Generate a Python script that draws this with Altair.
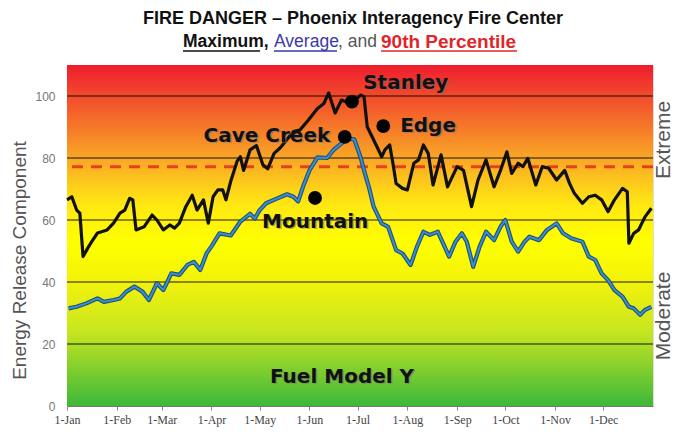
import altair as alt
import pandas as pd

# ---- data ----
max_days = [0,3,6,8,10,13,16,19,25,29,33,36,39,41,43,48,53,56,60,64,67,70,74,78,81,85,88,91,94,97,
            99,102,106,108,110,114,118,122,125,129,133,137,141,145,150,156,160,163,167,171,176,179,183,185,187,
            193,196,198,201,203,205,209,212,216,219,222,225,228,233,237,243,247,252,256,261,266,270,274,277,281,
            284,287,292,296,300,305,310,313,316,321,325,329,333,337,341,346,349,350,353,356,360,364]
max_vals = [66.5,67.5,63.2,62.2,48.2,51,53.5,55.8,56.8,59,62.2,63.2,67,66.5,56.8,57.8,61.6,60,56.8,58.4,
            57.4,59,64.3,68,63.2,66.5,59,67.5,69.7,69.7,66.5,72.5,79,80.4,76,82.6,84,77.8,76.5,81.5,
            83.4,86,88.5,89,92,96,97.6,101,94.5,98.7,97.6,98.5,100.3,99.8,90.1,83.7,80.4,82.6,84.2,78.3,
            71.8,70.2,69.7,78.3,79.4,84.2,81.5,71.3,81,70.7,77.2,76,64.3,72.9,79.4,70.7,76,82,75,78.3,
            77.2,79.9,71.3,77.2,76.7,72.9,76,71.8,68.6,65.4,67.5,68,66.5,62.7,66.5,70.2,69.1,52.5,55.7,56.8,
            61,63.8]

avg_days = [1,6,12,19,23,29,33,37,42,47,51,56,60,65,70,75,79,83,87,90,95,102,108,114,117,120,124,131,137,141,
            144,147,151,156,162,166,171,174,179,183,185,188,191,196,200,205,209,214,218,222,226,231,238,242,246,
            249,253,257,261,266,270,273,277,281,285,288,294,299,305,309,314,321,325,329,333,337,341,346,350,353,
            357,360,364]
avg_vals = [31.5,32,33.1,34.7,33.6,34.2,34.7,36.9,38.5,36.9,34.2,39.6,37.4,42.8,42.3,45.5,46.5,43.9,49.3,51.5,
            55.7,55,59.5,62,60.5,63.2,65.4,67,68.3,67.5,66,70.7,76,80.2,80,82.6,84.7,86.3,86,80,
            76,70.7,64.3,58.9,57.8,50.3,49.2,45.5,51.4,56.2,55.2,56.2,48.2,53,55.7,53,44.9,51.4,56.2,53.5,
            57.8,60,53,49.8,53,54.6,53.5,56.8,58.9,55.7,54.1,53,48.2,47.1,42.8,40.6,37.4,35.3,32,31.5,
            29.4,31,32]

percentile_90 = 77.2
grid_values = [20, 40, 60, 80, 100]
y_ticks = [0, 20, 40, 60, 80, 100]

fire_names = ["Stanley", "Cave Creek", "Edge", "Mountain"]
fire_days = [177.5, 173, 197, 154.5]
fire_vals = [98.2, 86.8, 90.3, 67.1]

label_texts = ["Stanley", "Cave Creek", "Edge", "Mountain", "Fuel Model Y"]
label_days = [184.5, 164, 207.5, 121.5, 171.3]
label_vals = [104.3, 87.1, 90.4, 59.5, 9.5]
label_aligns = ["left", "right", "left", "left", "center"]

month_ticks = [f"2001-{m:02d}-01T00:00:00" for m in range(1, 13)]

# ---- tables ----
base = pd.Timestamp("2001-01-01")
def to_dates(days):
    return [base + pd.Timedelta(days=d) for d in days]

df_max = pd.DataFrame({"date": to_dates(max_days), "val": max_vals})
df_avg = pd.DataFrame({"date": to_dates(avg_days), "val": avg_vals})
df_fire = pd.DataFrame({"date": to_dates(fire_days), "val": fire_vals, "name": fire_names})
df_lab = pd.DataFrame({"date": to_dates(label_days), "val": label_vals, "text": label_texts, "align": label_aligns})
df_bg = pd.DataFrame({"date": [pd.Timestamp("2001-01-01")], "end": [pd.Timestamp("2002-01-01")],
                      "val": [0], "hi": [110]})
df_grid = pd.DataFrame({"val": grid_values})
df_p90 = pd.DataFrame({"val": [percentile_90]})
one = pd.DataFrame({"k": [0]})

xscale = alt.Scale(domain=["2001-01-01T00:00:00", "2002-01-01T00:00:00"], nice=False)
yscale = alt.Scale(domain=[0, 110], nice=False, zero=True)

xaxis = alt.Axis(values=month_ticks, format="%-d-%b", labelAngle=0, grid=False,
                 labelAlign="center", labelFlush=False, labelOverlap=False,
                 labelFont="Liberation Serif", labelFontSize=12, labelColor="#444",
                 tickColor="#888", tickSize=4, labelPadding=4, domainColor="#777", title=None)
yaxis = alt.Axis(values=y_ticks, grid=False, ticks=False, domain=False,
                 labelFont="Liberation Sans", labelFontSize=12, labelColor="#777", labelPadding=12,
                 title="Energy Release Component", titleFont="Liberation Sans", titleFontSize=19,
                 titleFontWeight="normal", titleColor="#555", titleAngle=270,
                 titleAlign="center", titleBaseline="middle", titleX=-48, titleY=195)

X = alt.X("date:T", scale=xscale, axis=xaxis)
Y = alt.Y("val:Q", scale=yscale, axis=yaxis)

gradient = alt.Gradient(
    gradient="linear", x1=0, y1=0, x2=0, y2=1,
    stops=[
        alt.GradientStop(color="#ee1c2e", offset=0.0),
        alt.GradientStop(color="#f24a2c", offset=0.09),
        alt.GradientStop(color="#f9a526", offset=0.27),
        alt.GradientStop(color="#ffe812", offset=0.41),
        alt.GradientStop(color="#ffff00", offset=0.52),
        alt.GradientStop(color="#f2f20a", offset=0.64),
        alt.GradientStop(color="#c8e620", offset=0.78),
        alt.GradientStop(color="#3cb83a", offset=1.0),
    ],
)

bg = alt.Chart(df_bg).mark_rect(color=gradient).encode(x=X, x2="end:T", y=Y, y2="hi:Q")

grid = alt.Chart(df_grid).mark_rule(color="#000", opacity=0.6, strokeWidth=1.3).encode(y=Y)

p90 = alt.Chart(df_p90).mark_rule(color="#e8401c", strokeWidth=3, strokeDash=[11, 8]).encode(y=Y)

avg_under = alt.Chart(df_avg).mark_line(color="#1f4f78", strokeWidth=4.2, strokeJoin="round").encode(x=X, y=Y)
avg_line = alt.Chart(df_avg).mark_line(color="#3a8fcc", strokeWidth=2, strokeJoin="round").encode(x=X, y=Y)
max_line = alt.Chart(df_max).mark_line(color="#111111", strokeWidth=3.2, strokeJoin="round").encode(x=X, y=Y)

dots = alt.Chart(df_fire).mark_circle(color="#000", opacity=1, size=190).encode(x=X, y=Y)

def labels(align):
    d = df_lab[df_lab["align"] == align]
    shadow = alt.Chart(d).mark_text(font="DejaVu Sans", fontWeight="bold", fontSize=20, align=align,
                                    baseline="middle", color="#777", opacity=0.55, dx=1.5, dy=1.5).encode(
        x=X, y=Y, text="text:N")
    txt = alt.Chart(d).mark_text(font="DejaVu Sans", fontWeight="bold", fontSize=20, align=align,
                                 baseline="middle", color="#111").encode(x=X, y=Y, text="text:N")
    return [shadow, txt]

def ptext(s, x, y, size, color, weight="normal", align="left", font="Liberation Sans", angle=0):
    return alt.Chart(one).mark_text(text=s, font=font, fontSize=size, fontWeight=weight, color=color,
                                    align=align, baseline="middle", angle=angle).encode(
        x=alt.value(x), y=alt.value(y))

def uline(x1, x2, y, color):
    return alt.Chart(one).mark_rule(color=color, strokeWidth=1.5).encode(
        x=alt.value(x1), x2=alt.value(x2), y=alt.value(y))

title_layers = [
    ptext("FIRE DANGER \u2013 Phoenix Interagency Fire Center", 286, -46, 18, "#111", "bold", "center"),
    ptext("Maximum,", 116, -23, 17.5, "#111", "bold"),
    ptext("Average", 207, -23, 17.5, "#3a3aa8", "normal"),
    ptext(", and", 271, -23, 17.5, "#555", "normal"),
    ptext("90th Percentile", 314, -23, 19, "#e0262a", "bold"),
    uline(116, 193, -14, "#111"),
    uline(207, 270, -14, "#3a3aa8"),
    uline(314, 450, -14, "#e0262a"),
    ptext("Extreme", 597, 75, 21, "#555", "normal", "center", angle=270),
    ptext("Moderate", 597, 251, 21, "#555", "normal", "center", angle=270),
]

layers = [bg, grid, p90, avg_under, avg_line, max_line, dots]
for a in ["left", "right", "center"]:
    layers += labels(a)
layers += title_layers

chart = alt.layer(*layers).properties(
    width=586, height=341, autosize="none",
    padding={"left": 59, "top": 57, "right": 22, "bottom": 26},
).configure_view(stroke="#666", strokeWidth=1).configure(background="white")

chart.save("out.html", embed_options={"renderer": "svg", "actions": False})
